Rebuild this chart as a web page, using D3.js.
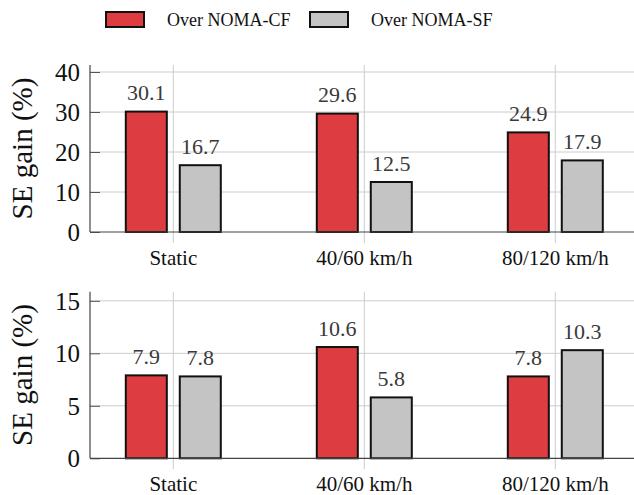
<!DOCTYPE html>
<html>
<head>
<meta charset="utf-8">
<script src="https://cdn.jsdelivr.net/npm/d3@7"></script>
<style>
  body { margin: 0; background: #fff; }
  svg { display: block; }
  svg text { font-family: "Liberation Serif", "DejaVu Serif", serif; }
</style>
</head>
<body>
<div id="chart"></div>
<script>
var categories = ["Static", "40/60 km/h", "80/120 km/h"];
var seriesNames = ["Over NOMA-CF", "Over NOMA-SF"];
var seriesColors = ["#dd3c40", "#c4c4c4"];

// top panel
var topCF = [30.1, 29.6, 24.9];
var topSF = [16.7, 12.5, 17.9];
var topTicks = [0, 10, 20, 30, 40];

// bottom panel
var botCF = [7.9, 10.6, 7.8];
var botSF = [7.8, 5.8, 10.3];
var botTicks = [0, 5, 10, 15];

var W = 634, H = 495;

var svg = d3.select("#chart").append("svg")
    .attr("width", W)
    .attr("height", H);

var left = 90, right = 640;

var x = d3.scalePoint()
    .domain(categories)
    .range([173.3, 555.3]);

var xs = d3.scaleBand()
    .domain(seriesNames)
    .range([-47.5, 47.5])
    .paddingInner(0.24);

function panel(cf, sf, ticks, ymax, y0, y1) {
    var y = d3.scaleLinear().domain([0, ymax]).range([y0, y1]);
    var g = svg.append("g");

    // horizontal grid
    g.selectAll(".hgrid").data(ticks.slice(1)).enter().append("line")
        .attr("x1", left).attr("x2", right)
        .attr("y1", function(d){ return y(d); })
        .attr("y2", function(d){ return y(d); })
        .attr("stroke", "#cccccc").attr("stroke-width", 1);

    // vertical grid (runs a bit below the axis)
    g.selectAll(".vgrid").data(categories).enter().append("line")
        .attr("x1", function(d){ return x(d); })
        .attr("x2", function(d){ return x(d); })
        .attr("y1", y1).attr("y2", y0 + 11)
        .attr("stroke", "#cccccc").attr("stroke-width", 1);

    // y axis, ticks pointing inward
    var yAxis = d3.axisLeft(y).tickValues(ticks).tickSize(-10).tickPadding(10)
        .tickFormat(d3.format("d"));
    var ya = g.append("g").attr("transform", "translate(" + left + ",0)").call(yAxis);
    ya.attr("font-family", null);
    ya.select(".domain").remove();
    ya.selectAll("line").attr("stroke", "#555");
    ya.selectAll("text")
        .attr("font-size", 25)
        .attr("fill", "#111").attr("dy", "0.34em");

    // bars
    var rows = categories.map(function(c, i){
        return [{s: seriesNames[0], c: c, v: cf[i], k: 0},
                {s: seriesNames[1], c: c, v: sf[i], k: 1}];
    });
    var bars = g.selectAll(".grp").data(rows).enter().append("g");
    bars.selectAll("rect").data(function(d){ return d; }).enter().append("rect")
        .attr("x", function(d){ return x(d.c) + xs(d.s); })
        .attr("width", xs.bandwidth())
        .attr("y", function(d){ return y(d.v); })
        .attr("height", function(d){ return y0 - y(d.v); })
        .attr("fill", function(d){ return seriesColors[d.k]; })
        .attr("stroke", "#111").attr("stroke-width", 2);

    bars.selectAll("text.val").data(function(d){ return d; }).enter().append("text")
        .attr("class", "val")
        .attr("x", function(d){ return x(d.c) + xs(d.s) + xs.bandwidth() / 2; })
        .attr("y", function(d){ return y(d.v) - 11.5; })
        .attr("text-anchor", "middle")
        .attr("font-size", 22)
        .attr("fill", "#3a3a3a")
        .text(function(d){ return d.v.toFixed(1); });

    // axis lines
    g.append("line").attr("x1", left).attr("x2", left)
        .attr("y1", y1).attr("y2", y0)
        .attr("stroke", "#444").attr("stroke-width", 1.2);
    g.append("line").attr("x1", left).attr("x2", right)
        .attr("y1", y0).attr("y2", y0)
        .attr("stroke", "#444").attr("stroke-width", 1.2);

    // x labels
    g.selectAll(".xl").data(categories).enter().append("text")
        .attr("x", function(d){ return x(d); })
        .attr("y", y0 + 33)
        .attr("text-anchor", "middle")
        .attr("font-size", 21)
        .attr("fill", "#111")
        .text(function(d){ return d; });

    // y title
    svg.append("text")
        .attr("transform", "translate(32," + ((y0 + y1) / 2) + ") rotate(-90)")
        .attr("text-anchor", "middle")
        .attr("font-size", 29)
        .attr("fill", "#111")
        .text("SE gain (%)");
}

panel(topCF, topSF, topTicks, 41.75, 232, 65);
panel(botCF, botSF, botTicks, 15.87, 458.3, 291.7);

// legend
var legX = [106, 310];
var leg = svg.append("g");
seriesNames.forEach(function(s, i){
    leg.append("rect")
        .attr("x", legX[i]).attr("y", 12)
        .attr("width", 38).attr("height", 15)
        .attr("fill", seriesColors[i])
        .attr("stroke", "#111").attr("stroke-width", 2);
    leg.append("text")
        .attr("x", legX[i] + 61).attr("y", 26)
        .attr("font-size", 18)
        .attr("fill", "#111")
        .text(s);
});
</script>
</body>
</html>
